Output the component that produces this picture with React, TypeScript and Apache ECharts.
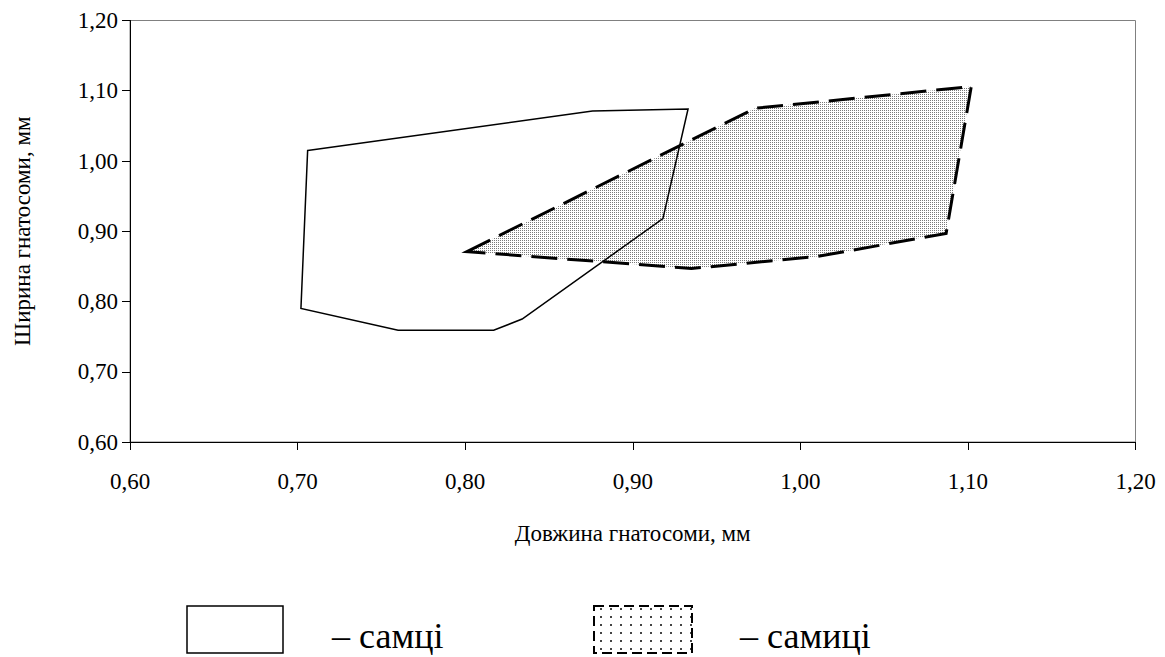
import React, { useEffect, useRef } from "react";
import * as echarts from "echarts";

// Tick labels
const xTicks = ["0,60", "0,70", "0,80", "0,90", "1,00", "1,10", "1,20"];
const yTicks = ["0,60", "0,70", "0,80", "0,90", "1,00", "1,10", "1,20"];

// Polygon outlines: [length, width]
const malesPolygon: [number, number][] = [
  [0.706, 1.015],
  [0.876, 1.071],
  [0.933, 1.074],
  [0.918, 0.918],
  [0.834, 0.775],
  [0.817, 0.759],
  [0.760, 0.759],
  [0.702, 0.790],
];

const femalesPolygon: [number, number][] = [
  [0.801, 0.871],
  [0.973, 1.075],
  [1.102, 1.106],
  [1.087, 0.897],
  [1.010, 0.864],
  [0.935, 0.847],
];

const xAxisName = "Довжина гнатосоми, мм";
const yAxisName = "Ширина гнатосоми, мм";
const maleLabel = "– самці";
const femaleLabel = "– самиці";

const FONT = "Liberation Serif, Times New Roman, DejaVu Serif, serif";

function makeDotCanvas(w: number, h: number, dot: number, color: string) {
  const c = document.createElement("canvas");
  c.width = w;
  c.height = h;
  const ctx = c.getContext("2d")!;
  ctx.fillStyle = "#ffffff";
  ctx.fillRect(0, 0, w, h);
  ctx.fillStyle = color;
  ctx.fillRect(0, 0, dot, dot);
  return c;
}

function fmt(v: number) {
  return v.toFixed(2).replace(".", ",");
}

export default function App() {
  const ref = useRef<HTMLDivElement>(null);

  useEffect(() => {
    document.body.style.margin = "0";
    if (!ref.current) return;
    const chart = echarts.init(ref.current, undefined, { renderer: "svg" });

    const densePattern = makeDotCanvas(2, 2, 1, "#7a7a7a");
    const sparsePattern = makeDotCanvas(10, 8, 2, "#444444");

    const polySeries = (
      name: string,
      pts: [number, number][],
      style: any,
      z: number
    ) => ({
      type: "custom",
      name,
      coordinateSystem: "cartesian2d",
      z,
      silent: true,
      data: pts,
      renderItem: (params: any, api: any) => {
        if (params.dataIndex !== 0) return null;
        const points = pts.map((p) => api.coord(p));
        return {
          type: "polygon",
          shape: { points },
          style,
        };
      },
    });

    const textStyle = (size: number) => ({ fontFamily: FONT, fontSize: size, color: "#000" });

    chart.setOption({
      animation: false,
      backgroundColor: "#ffffff",
      textStyle: { fontFamily: FONT },
      grid: {
        left: 130,
        right: 29.5,
        top: 20.5,
        bottom: 215,
        show: true,
        borderColor: "#808080",
        borderWidth: 1,
        backgroundColor: "transparent",
      },
      xAxis: {
        type: "value",
        min: 0.6,
        max: 1.2,
        interval: 0.1,
        name: xAxisName,
        nameLocation: "middle",
        nameGap: 80,
        nameTextStyle: textStyle(23),
        axisLine: { show: true, lineStyle: { color: "#000", width: 1 } },
        axisTick: { show: true, inside: false, length: 8, lineStyle: { color: "#000" } },
        axisLabel: {
          margin: 28,
          ...textStyle(23),
          formatter: (v: number) => xTicks[Math.round((v - 0.6) * 10)] ?? fmt(v),
        },
        splitLine: { show: false },
      },
      yAxis: {
        type: "value",
        min: 0.6,
        max: 1.2,
        interval: 0.1,
        name: yAxisName,
        nameLocation: "middle",
        nameGap: 96,
        nameTextStyle: textStyle(23),
        axisLine: { show: true, lineStyle: { color: "#000", width: 1 } },
        axisTick: { show: true, inside: false, length: 8, lineStyle: { color: "#000" } },
        axisLabel: {
          margin: 12,
          ...textStyle(23),
          formatter: (v: number) => yTicks[Math.round((v - 0.6) * 10)] ?? fmt(v),
        },
        splitLine: { show: false },
      },
      series: [
        polySeries(
          "самиці",
          femalesPolygon,
          {
            fill: { image: densePattern, repeat: "repeat" },
            stroke: "#000",
            lineWidth: 3,
            lineDash: [26, 10],
          },
          2
        ),
        polySeries(
          "самці",
          malesPolygon,
          { fill: "none", stroke: "#000", lineWidth: 1.5 },
          3
        ),
      ],
      graphic: [
        {
          type: "rect",
          shape: { x: 187, y: 606, width: 96, height: 47 },
          style: { fill: "#fff", stroke: "#000", lineWidth: 1.5 },
        },
        {
          type: "text",
          x: 332,
          y: 636,
          style: {
            text: maleLabel,
            fontFamily: FONT,
            fontSize: 36,
            fill: "#000",
            verticalAlign: "middle",
            align: "left",
          },
        },
        {
          type: "rect",
          shape: { x: 594, y: 606, width: 98, height: 47 },
          style: {
            fill: { image: sparsePattern, repeat: "repeat" },
            stroke: "#000",
            lineWidth: 2,
            lineDash: [10, 5],
          },
        },
        {
          type: "text",
          x: 740,
          y: 636,
          style: {
            text: femaleLabel,
            fontFamily: FONT,
            fontSize: 36,
            fill: "#000",
            verticalAlign: "middle",
            align: "left",
          },
        },
      ],
    });

    return () => chart.dispose();
  }, []);

  return <div ref={ref} style={{ width: 1165, height: 657 }} />;
}
